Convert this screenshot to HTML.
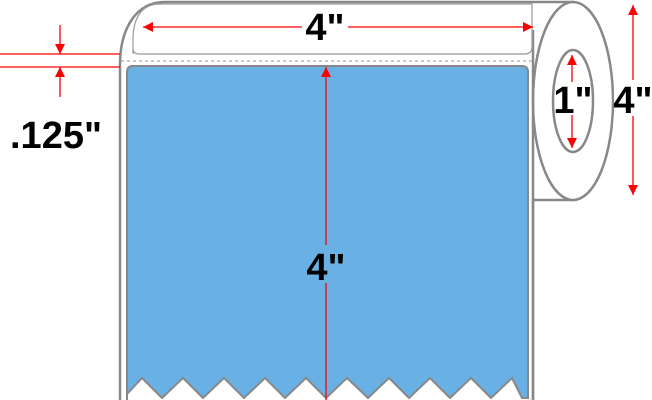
<!DOCTYPE html><html><head><style>body{margin:0;background:#fff}svg{display:block}text{font-family:"Liberation Sans",sans-serif;font-weight:bold;fill:#000}</style></head><body>
<svg width="652" height="400" viewBox="0 0 652 400">
<defs><marker id="a" viewBox="0 0 10 10" refX="10" refY="5" markerWidth="10" markerHeight="10" markerUnits="userSpaceOnUse" orient="auto-start-reverse"><path d="M0,0L10,5L0,10z" fill="#f00"/></marker></defs>
<path d="M120,400 V65 C120,30 135,2 165,2 H573 V200 H533 V400" fill="#fff" stroke="#888" stroke-width="2.5"/>
<ellipse cx="573" cy="101" rx="40" ry="99" fill="#fff" stroke="#888" stroke-width="2.5"/>
<ellipse cx="573" cy="101" rx="20" ry="51" fill="#fff" stroke="#888" stroke-width="2.5"/>
<path d="M533,30 V400" stroke="#888" stroke-width="2.5" fill="none"/>
<path d="M133,54 V40 C133,20 140,4 160,4 H532 V48 Q531,54 525,54 H139 Q133,54 133,48 Z" fill="#fff" stroke="#999" stroke-width="1.2"/>
<line x1="121" y1="61" x2="532" y2="61" stroke="#aaa" stroke-width="1.2" stroke-dasharray="3,3"/>
<path d="M127,400 V72 Q127,66 133,66 H522 Q528,66 528,72 V398 L522,398 L512,378 L491,398 L471,378 L450,398 L430,378 L409,398 L389,378 L368,398 L347,378 L326,398 L306,378 L285,398 L265,378 L244,398 L224,378 L203,398 L183,378 L162,398 L142,378 L127,394 Z" fill="#69b1e4" stroke="#888" stroke-width="2"/>
<g stroke="#f00" stroke-width="1.3" fill="none">
<line x1="0" y1="54" x2="120" y2="54"/><line x1="0" y1="67" x2="120" y2="67"/>
<line x1="60" y1="25" x2="60" y2="54" marker-end="url(#a)"/><line x1="60" y1="97" x2="60" y2="67" marker-end="url(#a)"/>
<line x1="143" y1="27" x2="533" y2="27" marker-start="url(#a)" marker-end="url(#a)"/>
<line x1="326" y1="67" x2="326" y2="400" marker-start="url(#a)"/>
<line x1="633" y1="5" x2="633" y2="195" marker-start="url(#a)" marker-end="url(#a)"/>
<line x1="572" y1="55" x2="572" y2="82" marker-start="url(#a)"/>
<line x1="572" y1="115" x2="572" y2="148" marker-end="url(#a)"/>
</g>
<rect x="302" y="10" width="46" height="34" fill="#fff"/>
<text x="325" y="40" font-size="38" text-anchor="middle">4"</text>
<rect x="306" y="245" width="40" height="38" fill="#69b1e4"/>
<text x="326" y="280" font-size="38" text-anchor="middle">4"</text>
<rect x="614" y="80" width="38" height="36" fill="#fff"/>
<text x="633" y="113" font-size="38" text-anchor="middle">4"</text>
<text x="573" y="113" font-size="38" text-anchor="middle">1"</text>
<text x="10" y="148" font-size="38">.125"</text>
</svg></body></html>
